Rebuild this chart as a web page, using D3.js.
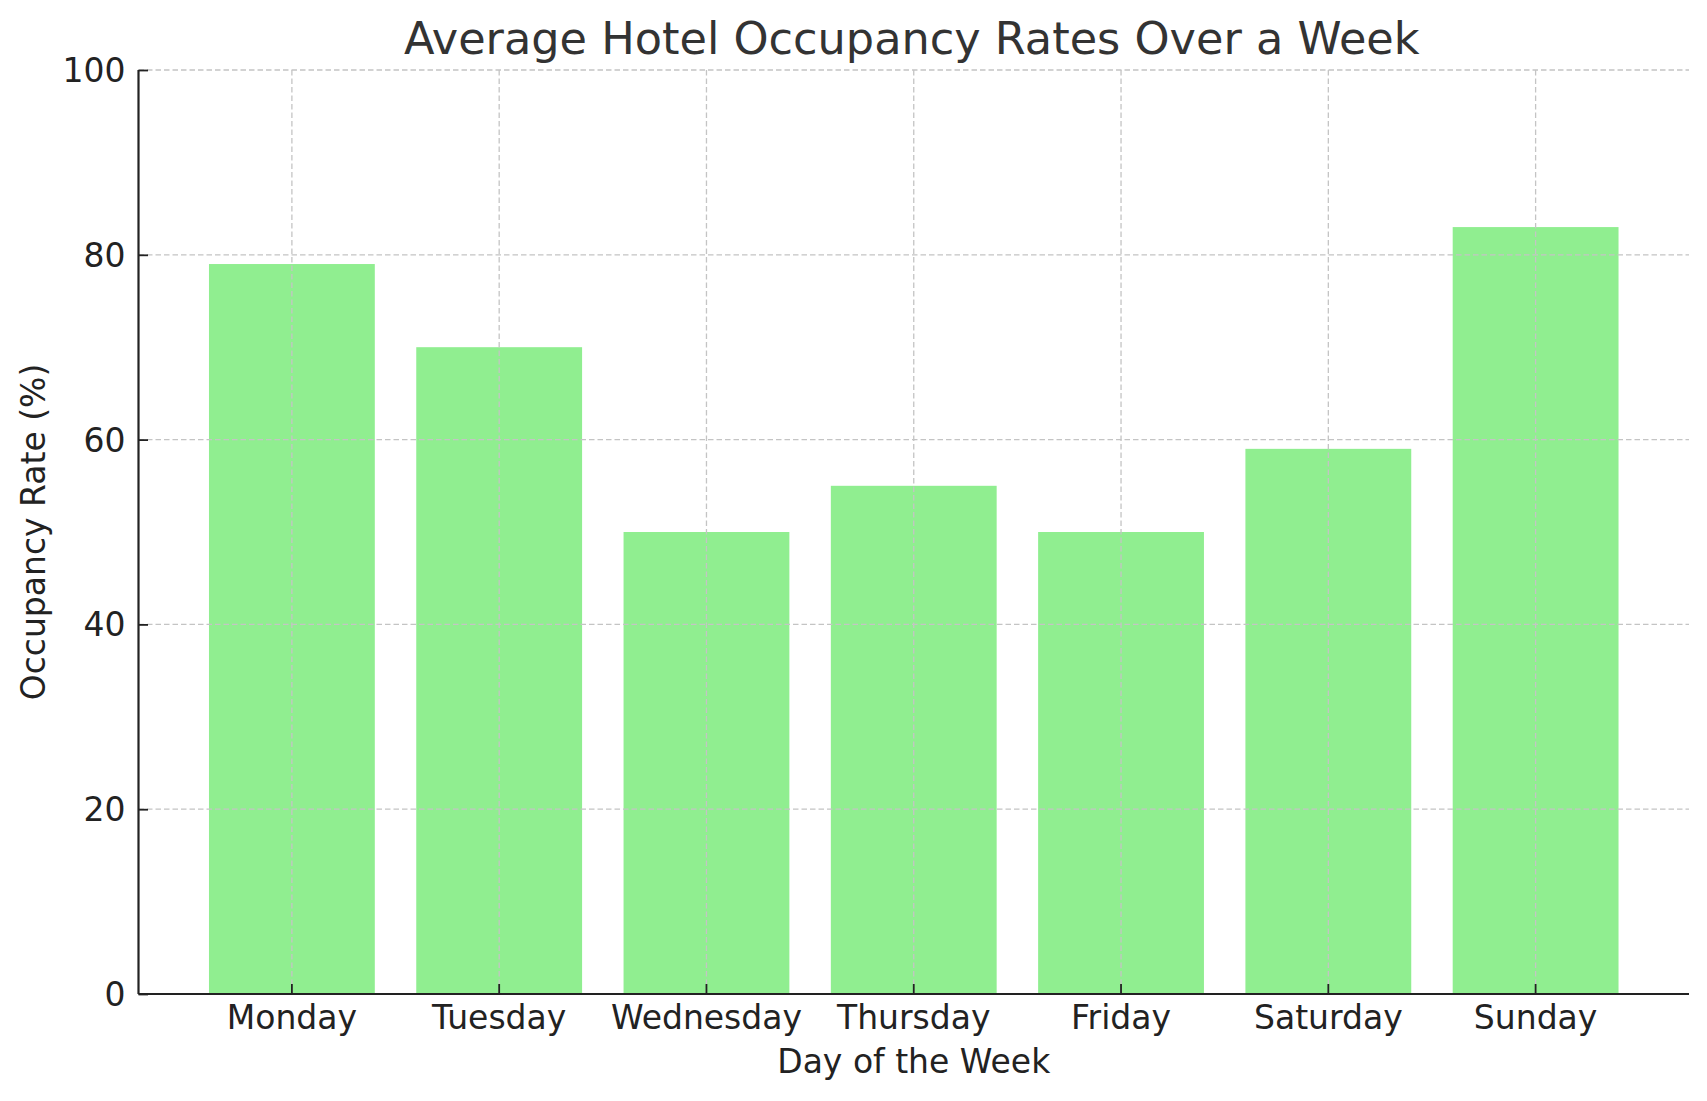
<!DOCTYPE html>
<html>
<head>
<meta charset="utf-8">
<script src="https://cdn.jsdelivr.net/npm/d3@7"></script>
<style>
  html, body { margin: 0; padding: 0; background: #fff; }
  svg { display: block; }
  text { font-family: "DejaVu Sans", sans-serif; }
</style>
</head>
<body>
<script>
const days = ["Monday", "Tuesday", "Wednesday", "Thursday", "Friday", "Saturday", "Sunday"];
const occupancy = [79, 70, 50, 55, 50, 59, 83];
const yTicks = [0, 20, 40, 60, 80, 100];
const titleText = "Average Hotel Occupancy Rates Over a Week";
const xLabelText = "Day of the Week";
const yLabelText = "Occupancy Rate (%)";

const W = 1707, H = 1101;
const mLeft = 138.5, mRight = 1689, mTop = 70, mBottom = 994;

const svg = d3.select("body").append("svg").attr("width", W).attr("height", H);

const x = d3.scaleBand().domain(days).range([mLeft, mRight])
  .paddingInner(0.2).paddingOuter(0.34).align(0.5);
const y = d3.scaleLinear().domain([0, 100]).range([mBottom, mTop]);

// bars
svg.append("g").selectAll("rect").data(days).join("rect")
  .attr("x", d => x(d))
  .attr("y", (d, i) => y(occupancy[i]))
  .attr("width", x.bandwidth())
  .attr("height", (d, i) => y(0) - y(occupancy[i]))
  .attr("fill", "#90EE90");

// grid
const grid = svg.append("g").attr("stroke", "#c4c4c4").attr("stroke-width", 1.3)
  .attr("stroke-dasharray", "5.5,3").attr("fill", "none");
grid.selectAll("line.h").data(yTicks.slice(1)).join("line").attr("class", "h")
  .attr("x1", mLeft).attr("x2", mRight).attr("y1", d => y(d)).attr("y2", d => y(d));
grid.selectAll("line.v").data(days).join("line").attr("class", "v")
  .attr("x1", d => x(d) + x.bandwidth() / 2).attr("x2", d => x(d) + x.bandwidth() / 2)
  .attr("y1", mTop).attr("y2", mBottom);

// axes
const xAxis = d3.axisBottom(x).tickSizeInner(-10).tickSizeOuter(0).tickPadding(0);
const gx = svg.append("g").attr("transform", `translate(0,${mBottom})`).call(xAxis);
gx.select(".domain").attr("stroke", "#222").attr("stroke-width", 2.2)
  .attr("d", `M${mLeft},0H${mRight}`);
gx.selectAll(".tick line").attr("stroke", "#222").attr("stroke-width", 1.8);
gx.selectAll(".tick text").attr("font-size", 33).attr("fill", "#222")
  .attr("y", 35).attr("dy", 0);

const yAxis = d3.axisLeft(y).tickValues(yTicks).tickSizeInner(-9.5).tickSizeOuter(0).tickPadding(0);
const gy = svg.append("g").attr("transform", `translate(${mLeft},0)`).call(yAxis);
gy.select(".domain").attr("stroke", "#222").attr("stroke-width", 2.2)
  .attr("d", `M0,${mTop}V${mBottom}`);
gy.selectAll(".tick line").attr("stroke", "#222").attr("stroke-width", 1.8);
gy.selectAll(".tick text").attr("font-size", 33).attr("fill", "#222")
  .attr("x", -13).attr("dy", "0.35em");

// title and labels
svg.append("text").attr("x", (mLeft + mRight) / 2 - 2).attr("y", 54)
  .attr("text-anchor", "middle").attr("font-size", 44.6).attr("fill", "#333")
  .text(titleText);
svg.append("text").attr("x", (mLeft + mRight) / 2).attr("y", 1073)
  .attr("text-anchor", "middle").attr("font-size", 33).attr("fill", "#222")
  .text(xLabelText);
svg.append("text").attr("transform", `translate(45,${(mTop + mBottom) / 2}) rotate(-90)`)
  .attr("text-anchor", "middle").attr("font-size", 33).attr("fill", "#222")
  .text(yLabelText);
</script>
</body>
</html>
